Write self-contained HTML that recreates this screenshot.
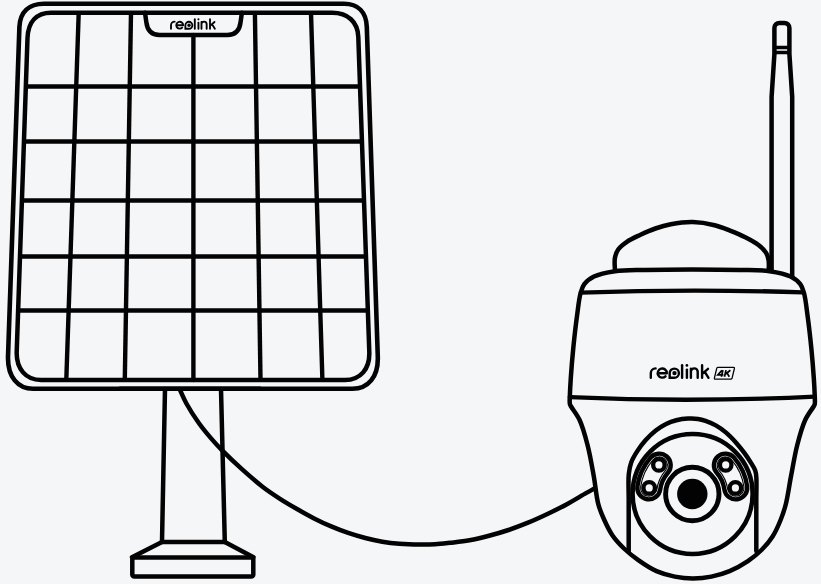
<!DOCTYPE html>
<html><head><meta charset="utf-8"><title>Reolink solar panel and camera</title>
<style>
html,body{margin:0;padding:0;background:#f5f6f8;font-family:"Liberation Sans",sans-serif;}
svg{display:block;}
</style></head>
<body>
<svg width="821" height="584" viewBox="0 0 821 584">
<rect width="821" height="584" fill="#f5f6f8"/>
<path d="M44 3.8 H344 C358 3.8 366.3 12 366.8 27 L377.8 357 C378.4 377 368 388.8 352.5 388.8 H33 C18 388.8 7.6 377 8.0 357 L19.4 27 C20.1 12 29 3.8 44 3.8 Z" fill="#f5f6f8" stroke="#030303" stroke-width="4.6" stroke-linecap="round" stroke-linejoin="round"/>
<path d="M51 12.8 H332 C348 12.8 357.8 22 358.3 37 L369.3 352 C369.9 369 360.5 380 345 380 H41 C26 380 16.2 369 16.7 352 L27.5 38 C28.2 22 36.5 12.8 51 12.8 Z" fill="none" stroke="#030303" stroke-width="4.5" stroke-linecap="round" stroke-linejoin="round"/>
<path d="M78.7 12.8 L66.3 380" fill="none" stroke="#030303" stroke-width="4.4" stroke-linecap="butt" stroke-linejoin="round"/>
<path d="M131.0 12.8 L124.8 380" fill="none" stroke="#030303" stroke-width="4.4" stroke-linecap="butt" stroke-linejoin="round"/>
<path d="M254.9 12.8 L260.5 380" fill="none" stroke="#030303" stroke-width="4.4" stroke-linecap="butt" stroke-linejoin="round"/>
<path d="M311.0 12.8 L322.4 380" fill="none" stroke="#030303" stroke-width="4.4" stroke-linecap="butt" stroke-linejoin="round"/>
<path d="M193.4 35 V380" fill="none" stroke="#030303" stroke-width="4.4" stroke-linecap="round" stroke-linejoin="round"/>
<path d="M25.8 86.5 H360.0" fill="none" stroke="#030303" stroke-width="4.4" stroke-linecap="butt" stroke-linejoin="round"/>
<path d="M23.9 141.5 H361.9" fill="none" stroke="#030303" stroke-width="4.4" stroke-linecap="butt" stroke-linejoin="round"/>
<path d="M21.9 200.5 H364.0" fill="none" stroke="#030303" stroke-width="4.4" stroke-linecap="butt" stroke-linejoin="round"/>
<path d="M20.0 256.5 H366.0" fill="none" stroke="#030303" stroke-width="4.4" stroke-linecap="butt" stroke-linejoin="round"/>
<path d="M18.1 310.5 H367.8" fill="none" stroke="#030303" stroke-width="4.4" stroke-linecap="butt" stroke-linejoin="round"/>
<path d="M145 12.8 L146.3 22 C147.3 30.5 151.5 35 159.5 35 H227.5 C235.5 35 239.6 30.5 240.6 22 L241.9 12.8" fill="none" stroke="#030303" stroke-width="4.5" stroke-linecap="round" stroke-linejoin="round"/>
<path d="M165 389 L162 542 H224.8 L221 389" fill="#f5f6f8" stroke="#030303" stroke-width="4.5" stroke-linecap="round" stroke-linejoin="round"/>
<path d="M162 542 L132 557.3 M224.8 542 L253.5 557.3" fill="none" stroke="#030303" stroke-width="4.5" stroke-linecap="round" stroke-linejoin="round"/>
<rect x="132.3" y="557.6" width="121" height="18.8" rx="2" fill="#f5f6f8" stroke="#030303" stroke-width="4.5"/>
<path d="M120 388.7 H260" fill="none" stroke="#030303" stroke-width="4.6" stroke-linecap="round" stroke-linejoin="round"/>
<path d="M179.60 389.00 C181.87 393.83 183.60 398.40 186.40 403.50 C189.76 409.62 194.51 416.99 198.80 423.00 C202.76 428.55 207.00 433.62 211.10 438.40 C214.87 442.80 218.04 446.26 222.40 450.70 C227.94 456.33 235.23 463.21 241.90 469.20 C248.59 475.21 255.79 481.55 262.50 486.70 C268.45 491.27 274.15 495.03 280.00 498.80 C285.65 502.44 291.29 505.72 297.00 509.00 C302.66 512.25 308.35 515.48 314.10 518.40 C319.75 521.27 325.46 523.97 331.20 526.40 C336.83 528.79 342.49 530.96 348.20 532.90 C353.86 534.82 359.58 536.53 365.30 538.00 C370.95 539.45 376.60 540.73 382.30 541.70 C387.97 542.66 393.42 543.32 399.40 543.80 C405.94 544.33 413.68 544.54 420.00 544.60 C425.39 544.65 430.01 544.60 435.00 544.30 C440.01 544.00 444.68 543.41 450.00 542.80 C456.08 542.11 463.03 541.46 469.50 540.30 C476.03 539.13 482.53 537.51 489.00 535.80 C495.53 534.08 502.04 532.17 508.50 530.00 C515.04 527.81 521.55 525.35 528.00 522.70 C534.52 520.02 540.96 517.06 547.40 514.00 C553.93 510.90 560.45 507.68 566.90 504.20 C573.45 500.66 581.27 495.79 586.40 492.90 C589.70 491.04 591.87 489.90 594.60 488.40" fill="none" stroke="#030303" stroke-width="4.5" stroke-linecap="round" stroke-linejoin="round"/>
<path d="M771.6 271 V97 L774.4 54 V28 A5 5 0 0 1 779.4 23 H784.4 A5 5 0 0 1 789.4 28 V54 L792.2 97 V277.5" fill="#f5f6f8" stroke="#030303" stroke-width="4.5" stroke-linecap="round" stroke-linejoin="round"/>
<path d="M774.4 47.6 H789.4 M774.4 52.4 H789.4" fill="none" stroke="#030303" stroke-width="3.5" stroke-linecap="butt" stroke-linejoin="round"/>
<path d="M614.90 270.50 C614.90 266.33 614.21 261.71 614.90 258.00 C615.49 254.83 616.41 252.07 618.20 249.50 C620.22 246.60 623.54 244.11 626.90 241.80 C630.68 239.20 635.41 237.15 640.00 235.00 C644.88 232.71 650.21 230.30 655.40 228.50 C660.48 226.75 665.17 225.34 670.80 224.30 C677.41 223.07 685.41 221.95 692.70 222.10 C700.01 222.25 708.01 223.60 714.60 225.20 C720.26 226.58 724.91 228.60 730.00 230.60 C735.15 232.63 740.46 234.82 745.30 237.30 C749.94 239.67 754.85 242.25 758.50 245.10 C761.56 247.49 764.41 250.03 766.10 252.80 C767.56 255.18 768.14 257.68 768.60 260.40 C769.11 263.38 768.73 266.80 768.80 270.00" fill="#f5f6f8" stroke="#030303" stroke-width="4.5" stroke-linecap="round" stroke-linejoin="round"/>
<path d="M692.30 269.40 C676.53 269.40 658.98 269.52 645.00 269.90 C633.86 270.20 624.05 269.86 615.00 271.20 C607.31 272.34 599.45 273.91 594.00 276.60 C589.89 278.63 586.56 281.24 584.30 284.20 C582.31 286.80 581.65 289.30 580.60 293.00 C578.96 298.79 578.14 307.63 577.00 316.00 C575.64 326.00 574.25 338.35 573.20 349.00 C572.21 358.97 571.39 369.35 570.80 378.00 C570.33 385.00 569.96 392.62 569.80 397.00 C569.72 399.31 569.60 400.86 569.70 402.30 C569.77 403.29 569.82 404.02 570.10 404.80 C570.38 405.59 570.77 405.97 571.40 407.00 C572.95 409.53 577.17 414.77 579.60 420.00 C582.79 426.86 585.31 436.29 587.60 445.20 C590.11 454.96 591.98 466.20 593.80 476.30 C595.52 485.84 596.20 496.33 598.30 504.20 C599.91 510.24 601.88 514.66 604.20 519.80 C606.59 525.10 609.17 530.69 612.50 535.50 C615.79 540.25 619.78 544.45 624.00 548.50 C628.35 552.67 633.11 556.45 638.30 560.10 C643.88 564.02 650.24 568.32 656.50 571.10 C662.43 573.73 668.65 575.38 674.80 576.60 C680.82 577.79 686.92 578.40 693.00 578.40 C699.12 578.40 705.34 577.80 711.40 576.60 C717.54 575.38 723.65 573.59 729.60 571.10 C735.83 568.49 742.40 564.80 747.90 561.10 C752.94 557.71 757.38 554.11 761.50 550.00 C765.61 545.90 769.44 541.43 772.60 536.50 C775.84 531.45 778.37 525.52 780.60 520.00 C782.73 514.75 784.24 510.27 785.80 504.20 C787.83 496.27 789.16 485.85 791.00 476.30 C792.95 466.21 794.69 454.96 797.20 445.20 C799.49 436.29 802.03 426.86 805.20 420.00 C807.61 414.78 811.76 409.53 813.30 407.00 C813.93 405.97 814.33 405.59 814.60 404.80 C814.86 404.02 814.85 403.29 814.90 402.30 C814.97 400.86 814.88 399.31 814.80 397.00 C814.64 392.62 814.27 385.00 813.80 378.00 C813.21 369.35 812.39 358.97 811.40 349.00 C810.35 338.35 808.96 326.00 807.60 316.00 C806.46 307.63 805.64 298.79 804.00 293.00 C802.95 289.30 802.29 286.80 800.30 284.20 C798.04 281.24 794.71 278.63 790.60 276.60 C785.15 273.91 777.29 272.34 769.60 271.20 C760.55 269.86 750.74 270.20 739.60 269.90 C725.62 269.52 708.07 269.40 692.30 269.40 Z" fill="#f5f6f8" stroke="#030303" stroke-width="4.5" stroke-linecap="round" stroke-linejoin="round"/>
<path d="M581 292.6 Q692 288.8 803 292.4" fill="none" stroke="#030303" stroke-width="4.4" stroke-linecap="round" stroke-linejoin="round"/>
<path d="M569.8 397.2 Q692 402.6 814.8 396.6" fill="none" stroke="#030303" stroke-width="4.3" stroke-linecap="round" stroke-linejoin="round"/>
<path d="M628.70 551.00 C628.70 534.00 628.67 514.16 628.70 500.00 C628.72 489.89 628.08 480.91 628.80 474.00 C629.29 469.33 629.84 466.14 631.20 462.40 C632.62 458.50 634.96 454.74 637.30 451.10 C639.71 447.36 642.46 443.70 645.50 440.30 C648.61 436.82 652.23 433.30 655.80 430.50 C659.11 427.90 662.57 425.62 666.10 423.90 C669.42 422.28 672.74 421.18 676.30 420.30 C680.02 419.38 684.24 418.81 688.00 418.60 C691.46 418.40 694.93 418.47 698.00 418.90 C700.70 419.28 702.84 419.88 705.50 420.80 C708.71 421.91 712.45 423.51 715.80 425.40 C719.33 427.40 722.80 429.82 726.10 432.60 C729.65 435.59 733.17 439.39 736.30 442.90 C739.28 446.23 742.02 449.72 744.50 453.10 C746.79 456.22 748.85 459.37 750.70 462.40 C752.38 465.16 754.28 467.87 755.20 470.50 C755.98 472.72 756.06 474.16 756.30 477.00 C756.75 482.31 756.30 490.83 756.30 500.00 C756.30 513.66 756.30 534.00 756.30 551.00" fill="none" stroke="#030303" stroke-width="4.5" stroke-linecap="round" stroke-linejoin="round"/>
<circle cx="692.6" cy="494" r="60" fill="none" stroke="#030303" stroke-width="4.5"/>
<circle cx="692.3" cy="494" r="26.7" fill="none" stroke="#030303" stroke-width="4.9"/>
<circle cx="692.3" cy="494" r="15.2" fill="#030303"/>
<path d="M659.20 465.16 A43.9 43.9 0 0 0 648.83 487.85" fill="none" stroke="#030303" stroke-width="27.4" stroke-linecap="round"/>
<path d="M659.20 465.16 A43.9 43.9 0 0 0 648.83 487.85" fill="none" stroke="#f5f6f8" stroke-width="18.6" stroke-linecap="round"/>
<path d="M659.20 465.16 A43.9 43.9 0 0 0 648.83 487.85" fill="none" stroke="#030303" stroke-width="17.6" stroke-linecap="round"/>
<path d="M659.20 465.16 A43.9 43.9 0 0 0 648.83 487.85" fill="none" stroke="#f5f6f8" stroke-width="15.3" stroke-linecap="round"/>
<circle cx="658.9" cy="464.9" r="5.75" fill="#f5f6f8" stroke="#030303" stroke-width="4.3"/>
<circle cx="649.2" cy="487.9" r="5.75" fill="#f5f6f8" stroke="#030303" stroke-width="4.3"/>
<path d="M725.40 465.16 A43.9 43.9 0 0 1 735.77 487.85" fill="none" stroke="#030303" stroke-width="27.4" stroke-linecap="round"/>
<path d="M725.40 465.16 A43.9 43.9 0 0 1 735.77 487.85" fill="none" stroke="#f5f6f8" stroke-width="18.6" stroke-linecap="round"/>
<path d="M725.40 465.16 A43.9 43.9 0 0 1 735.77 487.85" fill="none" stroke="#030303" stroke-width="17.6" stroke-linecap="round"/>
<path d="M725.40 465.16 A43.9 43.9 0 0 1 735.77 487.85" fill="none" stroke="#f5f6f8" stroke-width="15.3" stroke-linecap="round"/>
<circle cx="725.7" cy="464.9" r="5.75" fill="#f5f6f8" stroke="#030303" stroke-width="4.3"/>
<circle cx="735.4" cy="487.9" r="5.75" fill="#f5f6f8" stroke="#030303" stroke-width="4.3"/>
<g transform="translate(649.60 379.00) scale(1.0000)" fill="none" stroke="#030303" stroke-width="2.40" stroke-linecap="round" stroke-linejoin="round"><path d="M1.2 -1.2 V-5.8 A4.8 4.8 0 0 1 6 -10.6"/><path d="M8.3 -5.8 H17.2 A4.55 4.55 0 1 0 15.9 -2.7"/><path d="M20.1 -5.8 A4.6 4.6 0 1 1 24.7 -1.2 H20.1 Z" stroke-linejoin="miter"/><circle cx="24.9" cy="-5.9" r="2.2" fill="#030303" stroke="none"/><path d="M32.5 -13.8 V-1.2"/><path d="M37.3 -9.4 V-1.2"/><circle cx="37.3" cy="-13.6" r="1.35" fill="#030303" stroke="none"/><path d="M41.3 -1.2 V-10.2 M41.3 -7.2 A3.4 3.4 0 0 1 48.1 -7.2 V-1.2"/><path d="M52.5 -13.8 V-1.2 M58.4 -10.2 L52.9 -5.4 M55.2 -7.2 L58.9 -1.2"/></g>
<g transform="translate(170.10 29.70) scale(0.7600)" fill="none" stroke="#030303" stroke-width="2.45" stroke-linecap="round" stroke-linejoin="round"><path d="M1.2 -1.2 V-5.8 A4.8 4.8 0 0 1 6 -10.6"/><path d="M8.3 -5.8 H17.2 A4.55 4.55 0 1 0 15.9 -2.7"/><path d="M20.1 -5.8 A4.6 4.6 0 1 1 24.7 -1.2 H20.1 Z" stroke-linejoin="miter"/><circle cx="24.9" cy="-5.9" r="2.2" fill="#030303" stroke="none"/><path d="M32.5 -13.8 V-1.2"/><path d="M37.3 -9.4 V-1.2"/><circle cx="37.3" cy="-13.6" r="1.35" fill="#030303" stroke="none"/><path d="M41.3 -1.2 V-10.2 M41.3 -7.2 A3.4 3.4 0 0 1 48.1 -7.2 V-1.2"/><path d="M52.5 -13.8 V-1.2 M58.4 -10.2 L52.9 -5.4 M55.2 -7.2 L58.9 -1.2"/></g>
<path d="M717.6 367.4 H733.6 Q734.7 367.4 734.4 368.5 L732.1 378 Q731.8 379.1 730.7 379.1 H715.2 Q714.1 379.1 714.4 378 L716.7 368.5 Q717 367.4 717.6 367.4 Z" fill="none" stroke="#030303" stroke-width="1.25" stroke-linejoin="round"/>
<path d="M721.9 370.3 L717.9 374.9 H723.4 M722.9 370.1 L721.4 376.8" fill="none" stroke="#030303" stroke-width="1.75" stroke-linejoin="miter"/>
<path d="M726.0 370.1 L724.5 376.8 M730.4 370.3 L725.6 374.0 M727.0 372.9 L729.3 376.8" fill="none" stroke="#030303" stroke-width="1.75"/>
</svg>
</body></html>
